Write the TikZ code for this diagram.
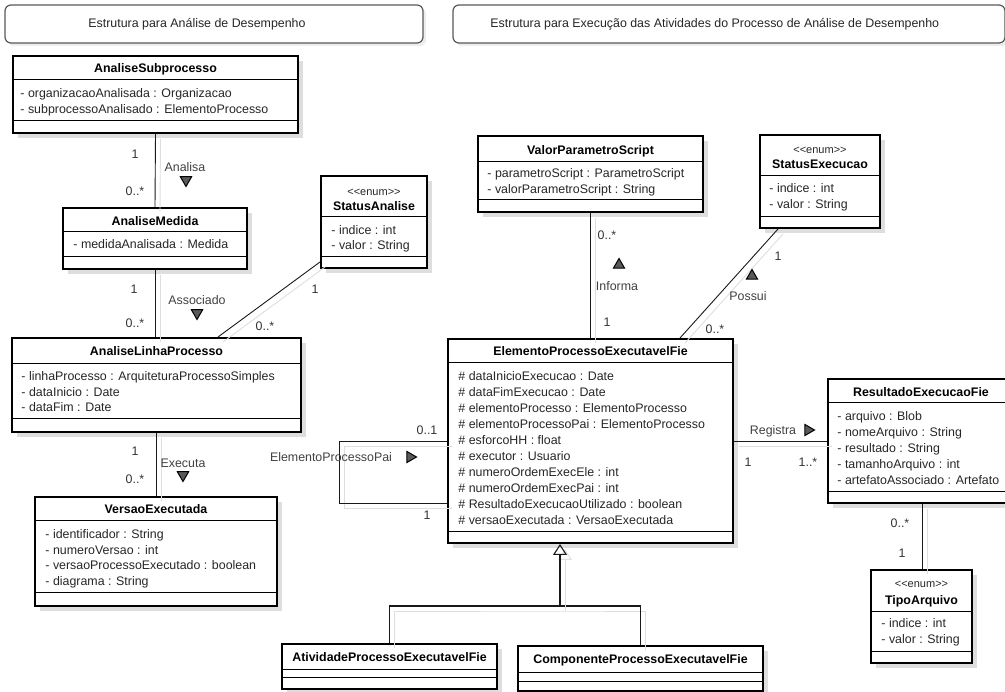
\documentclass[tikz,border=0pt]{standalone}
\usepackage{fontspec}
\setmainfont{Liberation Sans}
\usetikzlibrary{shapes.geometric,shadows,arrows.meta}

\begin{document}
\begin{tikzpicture}[x=1pt, y=-1pt, line width=0.9pt,
class box/.style={rectangle,draw,line width=2pt,fill=white,inner sep=0pt,drop shadow={shadow xshift=5pt,shadow yshift=-5pt,fill=black!13,opacity=1}},
class name/.style={font=\fontsize{12.4}{15}\selectfont\bfseries,inner sep=0pt,text height=9pt,text depth=2.5pt},
attr/.style={anchor=west,inner sep=0pt,text=black!85,text height=9pt,text depth=2.5pt},
stereo/.style={font=\fontsize{11}{13}\selectfont,inner sep=0pt,text=black!85},
sep/.style={line width=1pt},
assoc/.style={draw=black!90,line width=0.9pt,general shadow={draw=black!13,shadow xshift=5pt,shadow yshift=-5pt}},
mult/.style={text=black!80,inner sep=0pt},
role/.style={text=black!75,inner sep=0pt},
dir/.style={regular polygon,regular polygon sides=3,draw,fill=black!65,line width=1pt,minimum size=13pt,inner sep=0pt},
title box/.style={draw=black!65,line width=1.2pt,rounded corners=6pt,fill=white,drop shadow={shadow xshift=3pt,shadow yshift=-3pt,fill=black!7,opacity=1}},
every node/.style={font=\fontsize{12.4}{15}\selectfont}]
\useasboundingbox (0,0) rectangle (1005,692);

% titulos
\node[title box, minimum width=418, minimum height=38] (tit1) at (214,24) {};
\node[anchor=west, inner sep=0pt, text=black!85] (tit1t) at (88,24) {Estrutura para Análise de Desempenho};
\node[title box, minimum width=552, minimum height=38] (tit2) at (729,24) {};
\node[anchor=west, inner sep=0pt, text=black!85] (tit2t) at (490,24) {Estrutura para Execução das Atividades do Processo de Análise de Desempenho};

% AnaliseSubprocesso
\node[class box, minimum width=285, minimum height=77] (asub) at (155.5,94.5) {};
\node[class name] (asubN) at (155.5,69) {AnaliseSubprocesso};
\draw[sep] (asub.west |- 0,80) -- (asub.east |- 0,80);
\node[attr] (asubA1) at (20,94) {- organizacaoAnalisada : Organizacao};
\node[attr] (asubA2) at (20,110) {- subprocessoAnalisado : ElementoProcesso};
\draw[sep] (asub.west |- 0,121) -- (asub.east |- 0,121);

% AnaliseMedida
\node[class box, minimum width=184, minimum height=61] (amed) at (155,238.5) {};
\node[class name] (amedN) at (155,222) {AnaliseMedida};
\draw[sep] (amed.west |- 0,232) -- (amed.east |- 0,232);
\node[attr] (amedA1) at (73,245) {- medidaAnalisada : Medida};
\draw[sep] (amed.west |- 0,257) -- (amed.east |- 0,257);

% StatusAnalise
\node[class box, minimum width=106, minimum height=92] (sana) at (374,222) {};
\node[stereo] (sanaS) at (374,192) {<\kern0pt<enum>\kern0pt>};
\node[class name] (sanaN) at (374,207) {StatusAnalise};
\draw[sep] (sana.west |- 0,217) -- (sana.east |- 0,217);
\node[attr] (sanaA1) at (331,231) {- indice : int};
\node[attr] (sanaA2) at (331,246) {- valor : String};
\draw[sep] (sana.west |- 0,257) -- (sana.east |- 0,257);

% AnaliseLinhaProcesso
\node[class box, minimum width=289, minimum height=94] (alp) at (156.5,385) {};
\node[class name] (alpN) at (156.5,352) {AnaliseLinhaProcesso};
\draw[sep] (alp.west |- 0,364) -- (alp.east |- 0,364);
\node[attr] (alpA1) at (21,377) {- linhaProcesso : ArquiteturaProcessoSimples};
\node[attr] (alpA2) at (21,393) {- dataInicio : Date};
\node[attr] (alpA3) at (21,408) {- dataFim : Date};
\draw[sep] (alp.west |- 0,419) -- (alp.east |- 0,419);

% VersaoExecutada
\node[class box, minimum width=242, minimum height=109] (vexe) at (156,551.5) {};
\node[class name] (vexeN) at (156,510) {VersaoExecutada};
\draw[sep] (vexe.west |- 0,521) -- (vexe.east |- 0,521);
\node[attr] (vexeA1) at (45,535) {- identificador : String};
\node[attr] (vexeA2) at (45,551) {- numeroVersao : int};
\node[attr] (vexeA3) at (45,566) {- versaoProcessoExecutado : boolean};
\node[attr] (vexeA4) at (45,582) {- diagrama : String};
\draw[sep] (vexe.west |- 0,593) -- (vexe.east |- 0,593);

% ValorParametroScript
\node[class box, minimum width=225, minimum height=76] (vps) at (590.5,174) {};
\node[class name] (vpsN) at (590.5,151) {ValorParametroScript};
\draw[sep] (vps.west |- 0,162) -- (vps.east |- 0,162);
\node[attr] (vpsA1) at (487,174) {- parametroScript : ParametroScript};
\node[attr] (vpsA2) at (487,190) {- valorParametroScript : String};
\draw[sep] (vps.west |- 0,200) -- (vps.east |- 0,200);

% StatusExecucao
\node[class box, minimum width=120, minimum height=93] (sexe) at (820,181.5) {};
\node[stereo] (sexeS) at (820,150) {<\kern0pt<enum>\kern0pt>};
\node[class name] (sexeN) at (820,165) {StatusExecucao};
\draw[sep] (sexe.west |- 0,176) -- (sexe.east |- 0,176);
\node[attr] (sexeA1) at (769,189) {- indice : int};
\node[attr] (sexeA2) at (769,205) {- valor : String};
\draw[sep] (sexe.west |- 0,217) -- (sexe.east |- 0,217);

% ElementoProcessoExecutavelFie
\node[class box, minimum width=285, minimum height=204] (elp) at (590.5,441) {};
\node[class name] (elpN) at (590.5,352) {ElementoProcessoExecutavelFie};
\draw[sep] (elp.west |- 0,363) -- (elp.east |- 0,363);
\node[attr] (elpA1) at (458,377) {\# dataInicioExecucao : Date};
\node[attr] (elpA2) at (458,393) {\# dataFimExecucao : Date};
\node[attr] (elpA3) at (458,409) {\# elementoProcesso : ElementoProcesso};
\node[attr] (elpA4) at (458,425) {\# elementoProcessoPai : ElementoProcesso};
\node[attr] (elpA5) at (458,441) {\# esforcoHH : float};
\node[attr] (elpA6) at (458,457) {\# executor : Usuario};
\node[attr] (elpA7) at (458,473) {\# numeroOrdemExecEle : int};
\node[attr] (elpA8) at (458,489) {\# numeroOrdemExecPai : int};
\node[attr] (elpA9) at (458,505) {\# ResultadoExecucaoUtilizado : boolean};
\node[attr] (elpA10) at (458,521) {\# versaoExecutada : VersaoExecutada};
\draw[sep] (elp.west |- 0,532) -- (elp.east |- 0,532);

% ResultadoExecucaoFie
\node[class box, minimum width=182, minimum height=124] (rexe) at (919,441) {};
\node[class name] (rexeN) at (921,393) {ResultadoExecucaoFie};
\draw[sep] (rexe.west |- 0,403) -- (rexe.east |- 0,403);
\node[attr] (rexeA1) at (837,417) {- arquivo : Blob};
\node[attr] (rexeA2) at (837,433) {- nomeArquivo : String};
\node[attr] (rexeA3) at (837,449) {- resultado : String};
\node[attr] (rexeA4) at (837,465) {- tamanhoArquivo : int};
\node[attr] (rexeA5) at (837,481) {- artefatoAssociado : Artefato};
\draw[sep] (rexe.west |- 0,492) -- (rexe.east |- 0,492);

% TipoArquivo
\node[class box, minimum width=101, minimum height=93] (tarq) at (921.5,616.5) {};
\node[stereo] (tarqS) at (921.5,584) {<\kern0pt<enum>\kern0pt>};
\node[class name] (tarqN) at (921.5,601) {TipoArquivo};
\draw[sep] (tarq.west |- 0,611) -- (tarq.east |- 0,611);
\node[attr] (tarqA1) at (881,624) {- indice : int};
\node[attr] (tarqA2) at (881,640) {- valor : String};
\draw[sep] (tarq.west |- 0,651) -- (tarq.east |- 0,651);

% subclasses
\node[class box, minimum width=215, minimum height=45] (atv) at (389.5,666.5) {};
\node[class name] (atvN) at (389.5,658) {AtividadeProcessoExecutavelFie};
\draw[sep] (atv.west |- 0,669) -- (atv.east |- 0,669);
\draw[sep] (atv.west |- 0,677) -- (atv.east |- 0,677);
\node[class box, minimum width=245, minimum height=45] (cmp) at (640.5,668.5) {};
\node[class name] (cmpN) at (640.5,660) {ComponenteProcessoExecutavelFie};
\draw[sep] (cmp.west |- 0,672) -- (cmp.east |- 0,672);
\draw[sep] (cmp.west |- 0,681) -- (cmp.east |- 0,681);

% associacoes
\draw[assoc] (asub.south) -- (amed.north);
\node[mult] (m1a) at (135,154) {1};
\node[mult] (m1b) at (135,191) {0..*};
\node[role] (r1) at (185,167) {Analisa};
\node[dir, shape border rotate=180] (d1) at (186,180) {};

\draw[assoc] (amed.south) -- (amed.south |- alp.north);
\node[mult] (m2a) at (134,289) {1};
\node[mult] (m2b) at (135,323) {0..*};
\node[role] (r2) at (197,300) {Associado};
\node[dir, shape border rotate=180] (d2) at (197,313) {};

\draw[assoc] (sana.west |- 0,262) -- (alp.north -| 218,0);
\node[mult] (m3a) at (315,289) {1};
\node[mult] (m3b) at (265,326) {0..*};

\draw[assoc] (alp.south -| vexe.north) -- (vexe.north);
\node[mult] (m4a) at (135,451) {1};
\node[mult] (m4b) at (135,479) {0..*};
\node[role] (r4) at (183,463) {Executa};
\node[dir, shape border rotate=180] (d4) at (183,475) {};

\draw[assoc] (vps.south) -- (elp.north);
\node[mult] (m5a) at (607,235) {0..*};
\node[mult] (m5b) at (607,322) {1};
\node[dir] (d5) at (619,265) {};
\node[role] (r5) at (617,286) {Informa};

\draw[assoc] (sexe.south -| 778,0) -- (elp.north -| 680,0);
\node[mult] (m6a) at (778,256) {1};
\node[mult] (m6b) at (715,329) {0..*};
\node[dir] (d6) at (752,276) {};
\node[role] (r6) at (748,296) {Possui};

\draw[assoc] (elp.west) -| (339,503) -- (elp.west |- 0,503);
\node[mult] (m7a) at (427,430) {0..1};
\node[mult] (m7b) at (427,515) {1};
\node[role] (r7) at (331,457) {ElementoProcessoPai};
\node[dir, shape border rotate=-90] (d7) at (410,457) {};

\draw[assoc] (elp.east) -- (rexe.west);
\node[role] (r8) at (773,431) {Registra};
\node[dir, shape border rotate=-90] (d8) at (808,430) {};
\node[mult] (m8a) at (748,462) {1};
\node[mult] (m8b) at (808,462) {1..*};

\draw[assoc] (rexe.south -| 922,0) -- (tarq.north -| 922,0);
\node[mult] (m9a) at (900,523) {0..*};
\node[mult] (m9b) at (902,553) {1};

% heranca
\coordinate (genjoin) at (560,606);
\draw[assoc, line width=1.1pt] (atv.north) |- (genjoin) -| (cmp.north);
\draw[assoc, line width=1.1pt, -{Triangle[open, length=11pt, width=14pt]}] (genjoin) -- (genjoin |- elp.south);
\end{tikzpicture}
\end{document}
